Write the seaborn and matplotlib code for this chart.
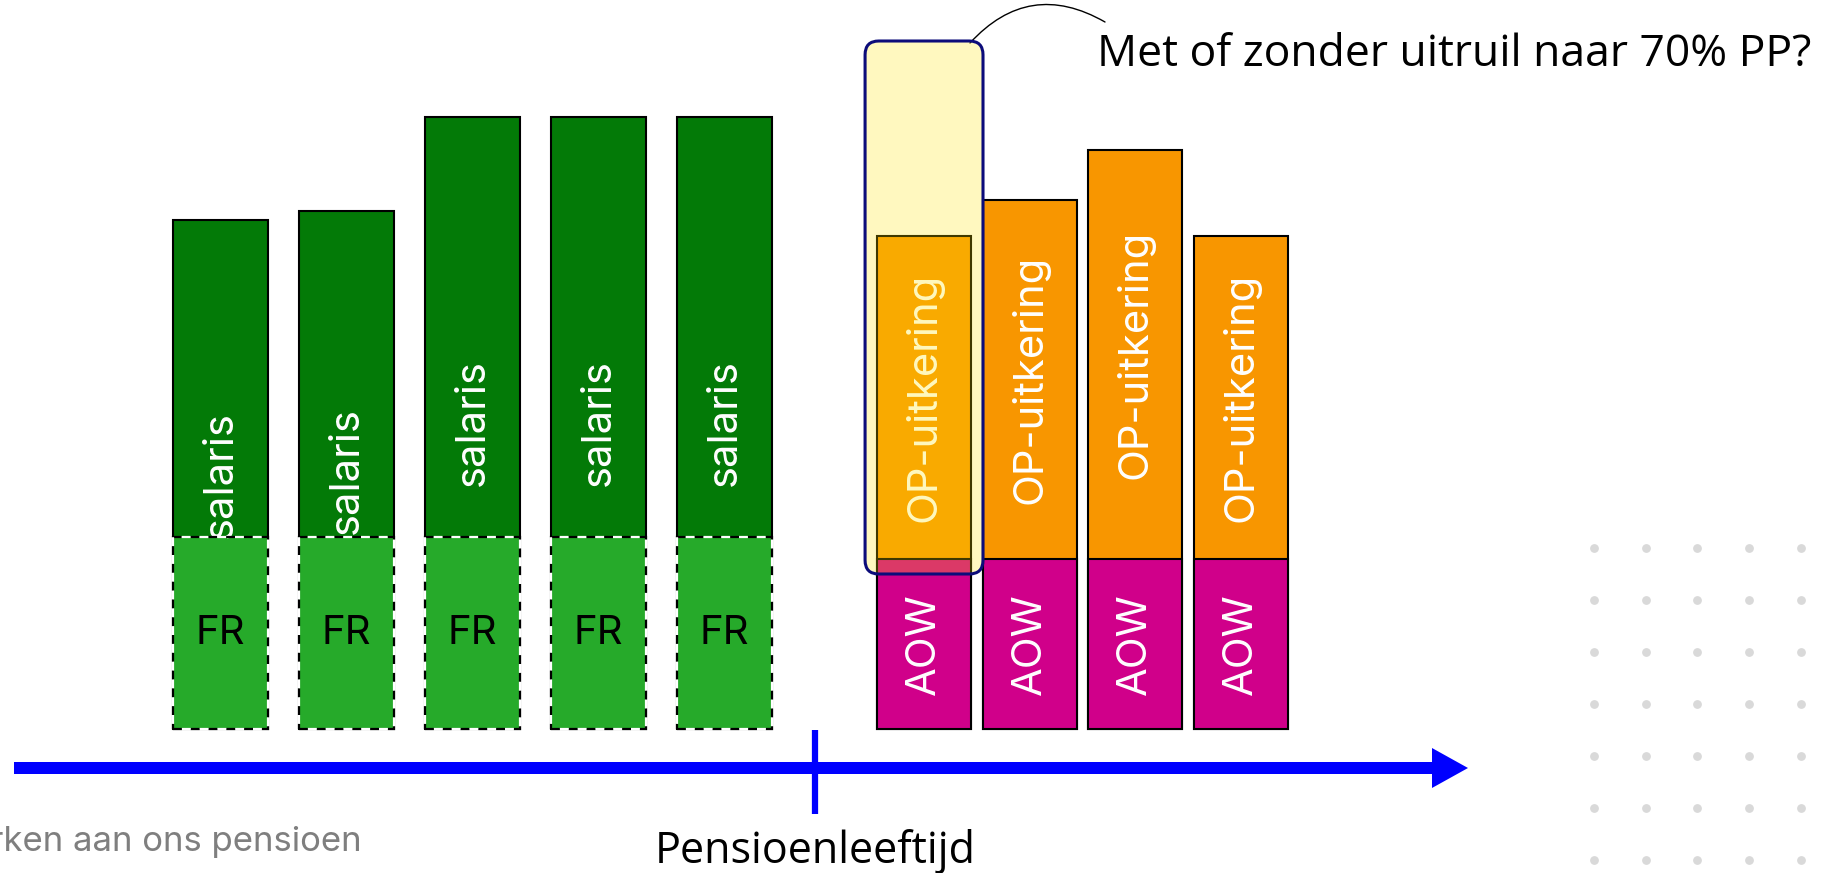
import matplotlib
matplotlib.use("Agg")
import matplotlib.pyplot as plt
import seaborn as sns
import numpy as np
from matplotlib.patches import Rectangle, FancyBboxPatch

# data (arbitrary units)
werk_jaren = ["w1", "w2", "w3", "w4", "w5"]
salaris = [50.9, 51.8, 61.2, 61.2, 61.2]
franchise = [19.2, 19.2, 19.2, 19.2, 19.2]

pensioen_jaren = ["p1", "p2", "p3", "p4"]
aow = [17.0, 17.0, 17.0, 17.0]
op_uitkering = [32.3, 35.9, 40.9, 32.3]

uitruil_onder = 15.5
uitruil_boven = 68.8

C_SALARIS = "#037A07"
C_FR = "#43D347"   # drawn at alpha .55 over the salaris bar
C_OP = "#F89600"
C_AOW = "#D0008A"
C_AS = "#0000FF"

sns.set_theme(style="white")
plt.rcParams["font.family"] = ["Inter", "DejaVu Sans"]

W, H = 1834, 873
fig = plt.figure(figsize=(W / 100, H / 100), dpi=100)

# decoration layer in pixel coordinates
deco = fig.add_axes([0, 0, 1, 1])
deco.set_xlim(0, W)
deco.set_ylim(H, 0)
deco.axis("off")

ylim = (-14.4, 72.9)
LBL = 30

# ---- werkjaren ----
ax_w = fig.add_axes([157.5 / W, 0, 630 / W, 1])
sns.barplot(x=werk_jaren, y=salaris, color=C_SALARIS, saturation=1, width=0.754,
            edgecolor="black", linewidth=1.5, errorbar=None, ax=ax_w, zorder=2)
n_before = len(ax_w.patches)
sns.barplot(x=werk_jaren, y=franchise, color=C_FR, saturation=1, width=0.754,
            edgecolor="none", alpha=0.55, errorbar=None, ax=ax_w, zorder=4)
for p in ax_w.patches[n_before:]:
    ax_w.add_patch(Rectangle(p.get_xy(), p.get_width(), p.get_height(), fill=False,
                             edgecolor="black", linewidth=1.6,
                             linestyle=(0, (4, 4)), zorder=5))
    ax_w.add_patch(Rectangle(p.get_xy(), p.get_width(), p.get_height(), fill=False,
                             edgecolor="white", linewidth=1.6,
                             linestyle=(4, (4, 4)), zorder=5))
for i, (s, f) in enumerate(zip(salaris, franchise)):
    ax_w.text(i, s / 2, "salaris", rotation=90, ha="center", va="center",
              color="white", fontsize=LBL, zorder=3)
    ax_w.text(i, f / 2, "FR", ha="center", va="center", color="black",
              fontsize=LBL - 1, zorder=6)
ax_w.set_xlim(-0.5, len(werk_jaren) - 0.5)
ax_w.set_ylim(*ylim)
ax_w.axis("off")

# ---- pensioenjaren ----
ax_p = fig.add_axes([871.2 / W, 0, 422.7 / W, 1])
totaal = [a + o for a, o in zip(aow, op_uitkering)]
sns.barplot(x=pensioen_jaren, y=totaal, color=C_OP, saturation=1, width=0.889,
            edgecolor="black", linewidth=1.5, errorbar=None, ax=ax_p, zorder=2)
sns.barplot(x=pensioen_jaren, y=aow, color=C_AOW, saturation=1, width=0.889,
            edgecolor="black", linewidth=1.5, errorbar=None, ax=ax_p, zorder=3)
for i, (a, o) in enumerate(zip(aow, op_uitkering)):
    ax_p.text(i, a + o / 2, "OP-uitkering", rotation=90, ha="center", va="center",
              color="white", fontsize=LBL, zorder=4)
    ax_p.text(i, a / 2, "AOW", rotation=90, ha="center", va="center",
              color="white", fontsize=LBL, zorder=4)
ax_p.set_xlim(-0.5, len(pensioen_jaren) - 0.5)
ax_p.set_ylim(*ylim)
ax_p.axis("off")

# highlight box around first pension bar
kader = dict(boxstyle="round,pad=0,rounding_size=0.13", mutation_aspect=10.6,
             clip_on=False)
ax_p.add_patch(FancyBboxPatch((-0.558, uitruil_onder), 1.116, uitruil_boven - uitruil_onder,
                              facecolor="#FFE600", alpha=0.25, edgecolor="none",
                              zorder=6, **kader))
ax_p.add_patch(FancyBboxPatch((-0.558, uitruil_onder), 1.116, uitruil_boven - uitruil_onder,
                              facecolor="none", edgecolor="#0C0C7A", linewidth=2.2,
                              zorder=7, **kader))

# time axis
deco.arrow(14, 768, 1454, 0, width=12, head_width=40, head_length=36,
           length_includes_head=True, color=C_AS, linewidth=0)
deco.plot([815, 815], [730, 814], color=C_AS, linewidth=4.5, solid_capstyle="butt")
deco.text(815, 851, "Pensioenleeftijd", ha="center", va="center", fontsize=31,
          family=["Open Sans", "DejaVu Sans"], color="black")

# callout
deco.annotate("", xy=(970, 43), xytext=(1105, 22),
              arrowprops=dict(arrowstyle="-", color="black", linewidth=1,
                              connectionstyle="arc3,rad=0.4", shrinkA=0, shrinkB=0))
deco.text(1097, 55, "Met of zonder uitruil naar 70% PP?", ha="left", va="center",
          fontsize=32, family=["Open Sans", "DejaVu Sans"], color="black")

# footer (left part falls off the page, as in the original slide)
deco.text(362, 842, "Werken aan ons pensioen", ha="right", va="center",
          fontsize=25, color="#7F7F7F")

# dotted grid decoration
gx, gy = np.meshgrid(np.arange(5) * 51.7 + 1594, np.arange(7) * 52 + 548)
deco.scatter(gx.ravel(), gy.ravel(), s=40, color="#D9D9D9", linewidths=0)

fig.savefig("out.png", dpi=100)
